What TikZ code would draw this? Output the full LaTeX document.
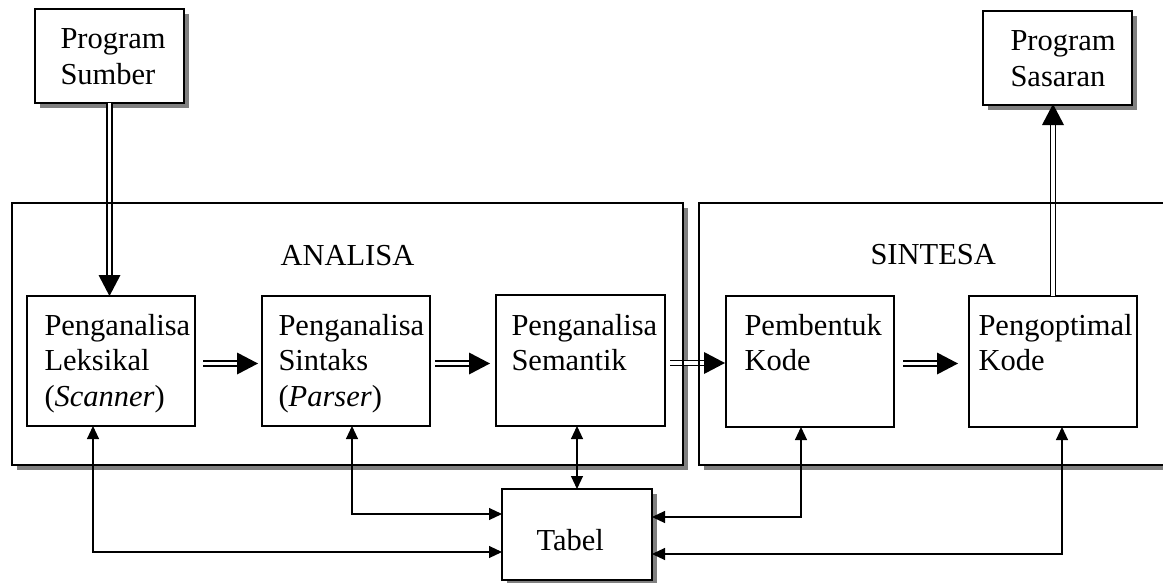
\documentclass[tikz,border=0pt]{standalone}
\usepackage{fontspec}
\setmainfont{Liberation Serif}
\usetikzlibrary{arrows.meta,shadows,calc}
\begin{document}
\begin{tikzpicture}[x=1pt,y=-1pt,
  every node/.style={font=\fontsize{30.5}{35.5}\selectfont},
  box/.style={draw,line width=1.1pt,fill=white,inner sep=0pt,outer sep=0pt},
  shbox/.style={box,drop shadow={shadow xshift=5pt,shadow yshift=-5pt,fill=black!50,opacity=1}},
  txt/.style={inner sep=0pt,outer sep=0pt,align=left,anchor=north west},
  lbl/.style={inner sep=0pt,outer sep=0pt,anchor=base west},
  dbl/.style={line width=1.7pt,double distance=3.3pt,shorten >=19pt},
  link/.style={line width=1.1pt,{Triangle[length=13pt,width=12pt]}-{Triangle[length=13pt,width=12pt]}}
]
\useasboundingbox (0,0) rectangle (1163,582);
\begin{scope}
\clip (0,0) rectangle (1163,582);
% outer boxes
\node[shbox,minimum width=671pt,minimum height=262pt] (ana) at (347.5,334) {};
\node[shbox,minimum width=481pt,minimum height=262pt] (sin) at (939.5,334) {};
\node[lbl] (anat) at (280.5,265) {ANALISA};
\node[lbl] (sint) at (870.5,264) {SINTESA};
% top boxes
\node[shbox,minimum width=149pt,minimum height=94pt] (src) at (109.5,56) {};
\node[txt] (srct) at (60.5,29) {Program\\Sumber};
\node[shbox,minimum width=149pt,minimum height=94pt] (tgt) at (1057.5,58) {};
\node[txt] (tgtt) at (1010.5,30.8) {Program\\Sasaran};
% phase boxes
\node[box,minimum width=168pt,minimum height=130pt] (lek) at (111,361) {};
\node[txt] (lekt) at (44.5,314.2) {Penganalisa\\Leksikal\\(\textit{Scanner})};
\node[box,minimum width=168pt,minimum height=130pt] (sta) at (346,361) {};
\node[txt] (stat) at (278.5,314.2) {Penganalisa\\Sintaks\\(\textit{Parser})};
\node[box,minimum width=169pt,minimum height=131pt] (sem) at (580.5,360.5) {};
\node[txt] (semt) at (511.5,314.2) {Penganalisa\\Semantik};
\node[box,minimum width=168pt,minimum height=131pt] (pem) at (810,361.5) {};
\node[txt] (pemt) at (744.5,314.2) {Pembentuk\\Kode};
\node[box,minimum width=168pt,minimum height=131pt] (opt) at (1053,361.5) {};
\node[txt] (optt) at (978.5,314.2) {Pengoptimal\\Kode};
% table
\node[shbox,minimum width=150pt,minimum height=91pt] (tab) at (577,534.5) {};
\node[lbl] (tabt) at (536.5,550) {Tabel};
% double arrows (tip points)
\coordinate (t0) at (src.south |- lek.north);
\coordinate (t5) at ([yshift=1pt]opt.north |- tgt.south);
\coordinate (t1) at ([xshift=-4pt,yshift=-2.5pt]sta.west);
\coordinate (t2) at ([xshift=-6pt,yshift=-2.5pt]sta.east -| sem.west);
\coordinate (t3) at ([xshift=-1pt,yshift=-2.5pt]sem.east -| pem.west);
\coordinate (t4) at ([xshift=-11pt,yshift=-2pt]opt.west);
\draw[dbl] (src.south) -- (t0);
\fill (t0) -- ++(-11,-21) -- ++(22,0) -- cycle;
\draw[dbl] (opt.north) -- (t5);
\fill (t5) -- ++(-11,21) -- ++(22,0) -- cycle;
\draw[dbl] ([xshift=8pt,yshift=-2.5pt]lek.east) -- (t1);
\fill (t1) -- ++(-21,-11) -- ++(0,22) -- cycle;
\draw[dbl] ([xshift=5pt,yshift=-2.5pt]sta.east) -- (t2);
\fill (t2) -- ++(-21,-11) -- ++(0,22) -- cycle;
\draw[dbl] ([xshift=5pt,yshift=-2.5pt]sem.east) -- (t3);
\fill (t3) -- ++(-21,-11) -- ++(0,22) -- cycle;
\draw[dbl] ([xshift=9pt,yshift=-2pt]pem.east) -- (t4);
\fill (t4) -- ++(-21,-11) -- ++(0,22) -- cycle;
% redraw outer borders over the crossings
\draw[line width=1.1pt] (ana.north west) rectangle (ana.south east);
\draw[line width=1.1pt] (sin.north west) rectangle (sin.south east);
% links to table
\draw[link] ([xshift=-18pt]lek.south) |- ([yshift=-17.5pt]tab.west);
\draw[link] ([xshift=6pt]sta.south) |- ([yshift=20.5pt]tab.west);
\draw[link] (sem.south -| tab.north) -- (tab.north);
\draw[link] ([xshift=-9pt]pem.south) |- ([yshift=17.5pt]tab.east);
\draw[link] ([xshift=9pt]opt.south) |- ([yshift=-19.5pt]tab.east);
\end{scope}
\end{tikzpicture}
\end{document}
